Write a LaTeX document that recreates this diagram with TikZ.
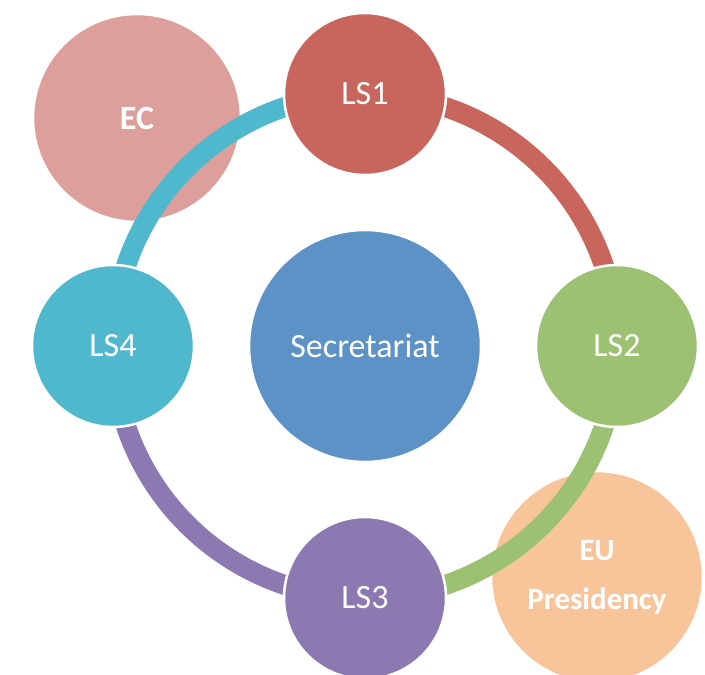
\documentclass[tikz,border=0pt]{standalone}
\usepackage{fontspec}
\setmainfont{Carlito}
\definecolor{lsred}{HTML}{C8665E}
\definecolor{lsgreen}{HTML}{9DC173}
\definecolor{lspurple}{HTML}{8C79B1}
\definecolor{lscyan}{HTML}{50B8CC}
\definecolor{secblue}{HTML}{5C92C5}
\definecolor{ecpink}{HTML}{DC9F9C}
\definecolor{eupeach}{HTML}{F8C59B}
\pgfdeclarelayer{back}
\pgfdeclarelayer{ring}
\pgfsetlayers{back,ring,main}
\tikzset{
  bubble/.style={circle,inner sep=0pt,draw=white,line width=2.5pt,text=white,align=center},
  lsnode/.style={bubble,minimum size=162pt,font=\fontsize{34}{40}\selectfont},
  band/.style={line width=20pt}
}
\begin{document}
\begin{tikzpicture}
\useasboundingbox (0pt,0pt) rectangle (705pt,675pt);
\begin{pgfonlayer}{back}
\node (ec) at (137pt,557pt) [bubble,fill=ecpink,minimum size=208pt,font=\fontsize{34}{40}\selectfont\bfseries] {EC};
\node (eu) at (597pt,98pt) [bubble,fill=eupeach,minimum size=212pt,font=\fontsize{31}{49}\selectfont\bfseries] {EU\\Presidency};
\end{pgfonlayer}
\node (sec) at (365pt,329pt) [bubble,fill=secblue,minimum size=232pt,font=\fontsize{34}{40}\selectfont] {Secretariat};
\node (ls1) at (365pt,581pt) [lsnode,fill=lsred] {LS1};
\node (ls2) at (617pt,329pt) [lsnode,fill=lsgreen] {LS2};
\node (ls3) at (365pt,77pt) [lsnode,fill=lspurple] {LS3};
\node (ls4) at (113pt,329pt) [lsnode,fill=lscyan] {LS4};
\begin{pgfonlayer}{ring}
\draw[band,lsred] (ls1.center) arc[start angle=90,end angle=0,radius=252pt];
\draw[band,lsgreen] (ls2.center) arc[start angle=0,end angle=-90,radius=252pt];
\draw[band,lspurple] (ls3.center) arc[start angle=270,end angle=180,radius=252pt];
\draw[band,lscyan] (ls4.center) arc[start angle=180,end angle=90,radius=252pt];
\end{pgfonlayer}
\end{tikzpicture}
\end{document}
